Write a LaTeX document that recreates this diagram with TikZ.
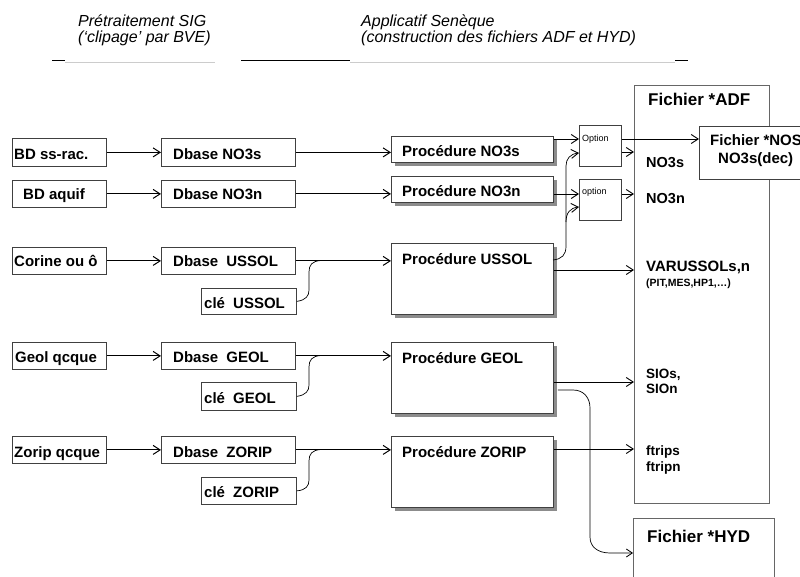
\documentclass[tikz,border=0pt]{standalone}
\usepackage{fontspec}
\setmainfont{Liberation Sans}
\usetikzlibrary{arrows.meta,shadows,calc}
\begin{document}
\begin{tikzpicture}[x=1pt,y=-1pt,
  bx/.style={draw=black!75,line width=0.8pt,fill=white,anchor=north west,inner sep=0pt},
  sbx/.style={bx,drop shadow={shadow xshift=4pt,shadow yshift=-4pt,fill=black!45,opacity=1}},
  lbl/.style={anchor=base west,inner sep=0pt,font=\fontsize{15}{18}\selectfont\bfseries},
  big/.style={anchor=base west,inner sep=0pt,font=\fontsize{17}{20}\selectfont\bfseries},
  mid/.style={anchor=base west,inner sep=0pt,font=\fontsize{13.5}{16}\selectfont\bfseries},
  tiny/.style={anchor=base west,inner sep=0pt,font=\fontsize{9}{10}\selectfont},
  hdr/.style={anchor=base west,inner sep=0pt,font=\fontsize{16}{18}\selectfont\itshape},
  arr/.style={draw,line width=1pt,-{Straight Barb[length=7pt,width=9pt,line width=1pt]}},
  tarr/.style={draw,line width=0.8pt,-{Straight Barb[length=7pt,width=9pt,line width=0.9pt]}},
  crv/.style={draw,line width=0.7pt}]
\useasboundingbox (0,0) rectangle (800,577);
\clip (0,0) rectangle (800,577);
% header
\node[hdr] (h1) at (78,27) {Prétraitement SIG};
\node[hdr] (h2) at (78,43) {(‘clipage’ par BVE)};
\node[hdr] (h3) at (361,27) {Applicatif Senèque};
\node[hdr] (h4) at (361,43) {(construction des fichiers ADF et HYD)};
\draw[line width=1pt] (52,61) -- (65,61);
\draw[black!20,line width=0.8pt] (65,62) -- (215,62);
\draw[line width=1pt] (241,61) -- (350,61);
\draw[black!20,line width=0.8pt] (350,62) -- (675,62);
\draw[line width=1pt] (675,61) -- (688,61);
% column 1
\node[bx,minimum width=94pt,minimum height=28pt] (bdss) at (12,138) {};
\node[bx,minimum width=94pt,minimum height=27pt] (bdaq) at (12,180) {};
\node[bx,minimum width=94pt,minimum height=27pt] (cor) at (12,247) {};
\node[bx,minimum width=94pt,minimum height=27pt] (geo) at (12,342) {};
\node[bx,minimum width=94pt,minimum height=27pt] (zor) at (12,436) {};
\node[lbl] (tbdss) at (14,160) {BD ss-rac.};
\node[lbl] (tbdaq) at (23,200) {BD aquif};
\node[lbl] (tcor) at (14,267) {Corine ou ô};
\node[lbl] (tgeo) at (15,362) {Geol qcque};
\node[lbl] (tzor) at (14,457) {Zorip qcque};
% column 2
\node[bx,minimum width=134pt,minimum height=28pt] (dn3s) at (161,138) {};
\node[bx,minimum width=134pt,minimum height=27pt] (dn3n) at (161,180) {};
\node[bx,minimum width=134pt,minimum height=27pt] (dus) at (161,247) {};
\node[bx,minimum width=134pt,minimum height=27pt] (dgeo) at (161,342) {};
\node[bx,minimum width=134pt,minimum height=27pt] (dzor) at (161,436) {};
\node[lbl] (tdn3s) at (173,160) {Dbase NO3s};
\node[lbl] (tdn3n) at (173,200) {Dbase NO3n};
\node[lbl] (tdus) at (173,267) {Dbase\hspace{4pt} USSOL};
\node[lbl] (tdgeo) at (173,362) {Dbase\hspace{4pt} GEOL};
\node[lbl] (tdzor) at (173,457) {Dbase\hspace{4pt} ZORIP};
\node[bx,minimum width=95pt,minimum height=26pt] (cus) at (201,288) {};
\node[bx,minimum width=95pt,minimum height=28pt] (cgeo) at (201,382) {};
\node[bx,minimum width=95pt,minimum height=27pt] (czor) at (201,477) {};
\node[lbl] (tcus) at (204,308) {clé\hspace{4pt} USSOL};
\node[lbl] (tcgeo) at (204,403) {clé\hspace{4pt} GEOL};
\node[lbl] (tczor) at (204,497) {clé\hspace{4pt} ZORIP};
% column 3
\node[sbx,minimum width=162pt,minimum height=26pt] (pn3s) at (391,136) {};
\node[sbx,minimum width=162pt,minimum height=26pt] (pn3n) at (391,176) {};
\node[sbx,minimum width=162pt,minimum height=71pt] (pus) at (391,243) {};
\node[sbx,minimum width=162pt,minimum height=71pt] (pgeo) at (391,342) {};
\node[sbx,minimum width=162pt,minimum height=71pt] (pzor) at (391,436) {};
\node[lbl] (tpn3s) at (402,157) {Procédure NO3s};
\node[lbl] (tpn3n) at (402,197) {Procédure NO3n};
\node[lbl] (tpus) at (402,265) {Procédure USSOL};
\node[lbl] (tpgeo) at (402,363) {Procédure GEOL};
\node[lbl] (tpzor) at (402,457) {Procédure ZORIP};
% options
\node[bx,minimum width=42pt,minimum height=41pt] (opt1) at (579,125) {};
\node[bx,minimum width=42pt,minimum height=41pt] (opt2) at (579,179) {};
\node[tiny] (topt1) at (582,142) {Option};
\node[tiny] (topt2) at (582,195) {option};
% files
\node[bx,draw=black!60,minimum width=135pt,minimum height=418pt] (adf) at (634,85) {};
\node[big] (tadf) at (648,106) {Fichier *ADF};
\node[bx,minimum width=120pt,minimum height=53pt] (nos) at (699,126) {};
\node[lbl] (tnos1) at (710,146) {Fichier *NOS};
\node[lbl] (tnos2) at (718,164) {NO3s(dec)};
\node[bx,draw=black!60,minimum width=141pt,minimum height=80pt] (hyd) at (633,518) {};
\node[big] (thyd) at (647,542) {Fichier *HYD};
\node[lbl,font=\fontsize{14.5}{16}\selectfont\bfseries] (tno3s) at (646,168) {NO3s};
\node[lbl,font=\fontsize{14.5}{16}\selectfont\bfseries] (tno3n) at (646,204) {NO3n};
\node[lbl] (tvar) at (646,272) {VARUSSOLs,n};
\node[anchor=base west,inner sep=0pt,font=\fontsize{10.5}{12}\selectfont\bfseries] (tpit) at (646,287) {(PIT,MES,HP1,…)};
\node[mid] (tsios) at (646,378) {SIOs,};
\node[mid] (tsion) at (646,393) {SIOn};
\node[mid] (tfts) at (646,455) {ftrips};
\node[mid] (tftn) at (646,471) {ftripn};
% coordinates
\coordinate (y139) at (0,139);
\coordinate (y152) at (0,152);
\coordinate (y194) at (0,194);
\coordinate (y270) at (0,270);
\coordinate (y382) at (0,382);
\coordinate (y449) at (0,449);
% arrows column 1 -> 2
\draw[arr] (bdss.east) -- (dn3s.west);
\draw[arr] (bdaq.east) -- (dn3n.west);
\draw[arr] (cor.east) -- (dus.west);
\draw[arr] (geo.east) -- (dgeo.west);
\draw[arr] (zor.east) -- (dzor.west);
% column 2 -> 3
\draw[arr] (dn3s.east) -- (dn3s.east -| pn3s.west);
\draw[arr] (dn3n.east) -- (dn3n.east -| pn3n.west);
\draw[arr] (dus.east) -- (dus.east -| pus.west);
\draw[arr] (dgeo.east) -- (dgeo.east -| pgeo.west);
\draw[arr] (dzor.east) -- (dzor.east -| pzor.west);
% cle curves
\draw[crv] (cus.east) .. controls (306,300) and (309,296) .. (309,290) -- (309,272) .. controls (309,265) and (312,261) .. (321,260.5);
\draw[crv] (cgeo.east) .. controls (306,395) and (309,391) .. (309,385) -- (309,367) .. controls (309,360) and (312,356) .. (321,355.5);
\draw[crv] (czor.east) .. controls (306,490) and (309,486) .. (309,480) -- (309,461) .. controls (309,454) and (312,450) .. (321,449.5);
% procedures -> options / files
\draw[tarr] (pn3s.east |- y139) -- (opt1.west |- y139);
\draw[tarr] (opt1.east |- y139) -- (nos.west |- y139);
\draw[tarr] (opt1.east |- y152) -- (adf.west |- y152);
\draw[tarr] (pn3n.east |- y194) -- (opt2.west |- y194);
\draw[tarr] (opt2.east |- y194) -- (adf.west |- y194);
\draw[tarr] (pus.east |- y270) -- (adf.west |- y270);
\draw[tarr] (pgeo.east |- y382) -- (adf.west |- y382);
\draw[tarr] (pzor.east |- y449) -- (adf.west |- y449);
% USSOL -> options
\coordinate (us0) at (553,260);
\draw[crv,-{Straight Barb[length=7pt,width=9pt,line width=0.9pt]}] (us0) .. controls (562,259) and (566,255) .. (566,246) -- (566,166) .. controls (566,159) and (570,154) .. (opt1.west |- 0,153);
\draw[crv,-{Straight Barb[length=7pt,width=9pt,line width=0.9pt]}] (566,222) .. controls (566,213) and (570,208) .. (opt2.west |- 0,207);
% GEOL -> HYD
\draw[crv,-{Straight Barb[length=6pt,width=8pt,line width=0.8pt]}] ([xshift=4pt]pgeo.east |- 0,390) -- (573,390) .. controls (584,390) and (590,398) .. (590,408) -- (590,537) .. controls (590,547) and (598,553) .. (610,553) -- (hyd.west |- 0,553);
\end{tikzpicture}
\end{document}
